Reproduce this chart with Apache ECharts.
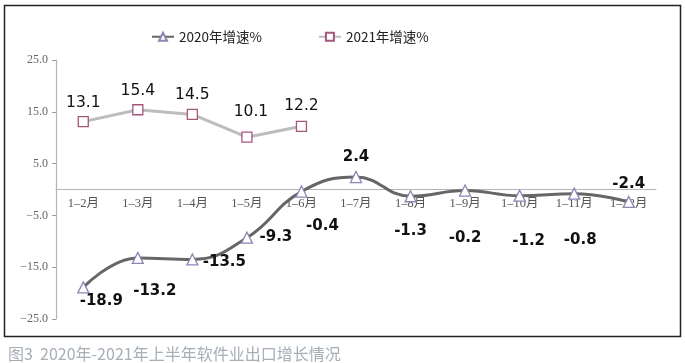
<!DOCTYPE html>
<html><head><meta charset="utf-8">
<script src="https://cdn.jsdelivr.net/npm/echarts@6/dist/echarts.min.js"></script>
<style>html,body{margin:0;padding:0;background:#fff}#c{width:685px;height:363px}</style>
</head><body><div id="c"></div>
<script>
const categories = ['1–2月','1–3月','1–4月','1–5月','1–6月','1–7月','1–8月','1–9月','1–10月','1–11月','1–12月'];
const values2020 = [-18.9,-13.2,-13.5,-9.3,-0.4,2.4,-1.3,-0.2,-1.2,-0.8,-2.4];
const values2021 = [13.1,15.4,14.5,10.1,12.2];
const yTicks = [-25,-15,-5,5,15,25];
const name2020 = '2020年增速%';
const name2021 = '2021年增速%';
const caption = '图3  2020年-2021年上半年软件业出口增长情况';
// label offsets (style only)
const off2020 = [[18,14],[17,33],[32,3],[29,-1],[21,35],[0,-20],[0,35],[0,48],[9,45],[6,46],[0,-18]];
const off2021 = [[0,-19],[0,-19],[0,-19],[4,-25],[0,-20]];

const gridTop = 60, gridBottom = 44, H = 363;
const plotH = H - gridTop - gridBottom;
const zeroOffset = -plotH * (0 - (-25)) / 50; // move x axis up to value 0

const chart = echarts.init(document.getElementById('c'), null, {renderer:'canvas'});
chart.setOption({
  animation:false,
  title:{text:caption,left:3,top:341,textStyle:{fontSize:16,fontWeight:'normal',color:'#a6aeb6',fontFamily:'Noto Sans CJK SC'}},
  legend:{top:25,left:146,itemGap:56,itemWidth:22,itemHeight:10,
    textStyle:{fontSize:13.5,color:'#222',fontFamily:'Noto Sans CJK SC'},
    data:[name2020,name2021]},
  grid:{left:56,right:29,top:gridTop,bottom:gridBottom},
  xAxis:{type:'category',data:categories,boundaryGap:true,offset:zeroOffset,
    axisLine:{onZero:false,lineStyle:{color:'#b5b5b5',width:1.2}},
    axisTick:{show:false},
    axisLabel:{color:'#555',fontSize:12.5,fontFamily:'Liberation Serif, Noto Sans CJK SC',margin:8}},
  yAxis:{type:'value',min:-25,max:25,interval:5,
    axisLine:{show:true,lineStyle:{color:'#b5b5b5',width:1.2}},
    axisTick:{show:true,length:4,customValues:yTicks,lineStyle:{color:'#999'}},
    splitLine:{show:false},
    axisLabel:{customValues:yTicks,color:'#666',fontSize:12,fontFamily:'Liberation Serif',margin:8,
      formatter:v=>(v<0?'−':'')+Math.abs(v).toFixed(1)}},
  graphic:[{type:'rect',shape:{x:4.5,y:5.5,width:676,height:331},
    style:{fill:null,stroke:'#222',lineWidth:1.5},silent:true}],
  series:[
    {name:name2020,type:'line',smooth:0.45,
      data:values2020.map((v,i)=>({value:v,label:{offset:off2020[i]}})),
      symbol:'triangle',symbolSize:11,
      lineStyle:{color:'#666',width:3},
      itemStyle:{color:'#fff',borderColor:'#8886b4',borderWidth:1.3},
      label:{show:true,position:'inside',fontSize:15,fontWeight:'bold',color:'#111',fontFamily:'DejaVu Sans',
        formatter:p=>p.value.toFixed(1)},
      z:3},
    {name:name2021,type:'line',smooth:false,
      data:values2021.map((v,i)=>({value:v,label:{offset:off2021[i]}})),
      symbol:'rect',symbolSize:10,
      lineStyle:{color:'#bdbdbd',width:3},
      itemStyle:{color:'#fff',borderColor:'#a4567c',borderWidth:1.3},
      label:{show:true,position:'inside',fontSize:15.5,color:'#111',fontFamily:'DejaVu Sans',
        formatter:p=>p.value.toFixed(1)},
      z:3}
  ]
});
</script></body></html>
